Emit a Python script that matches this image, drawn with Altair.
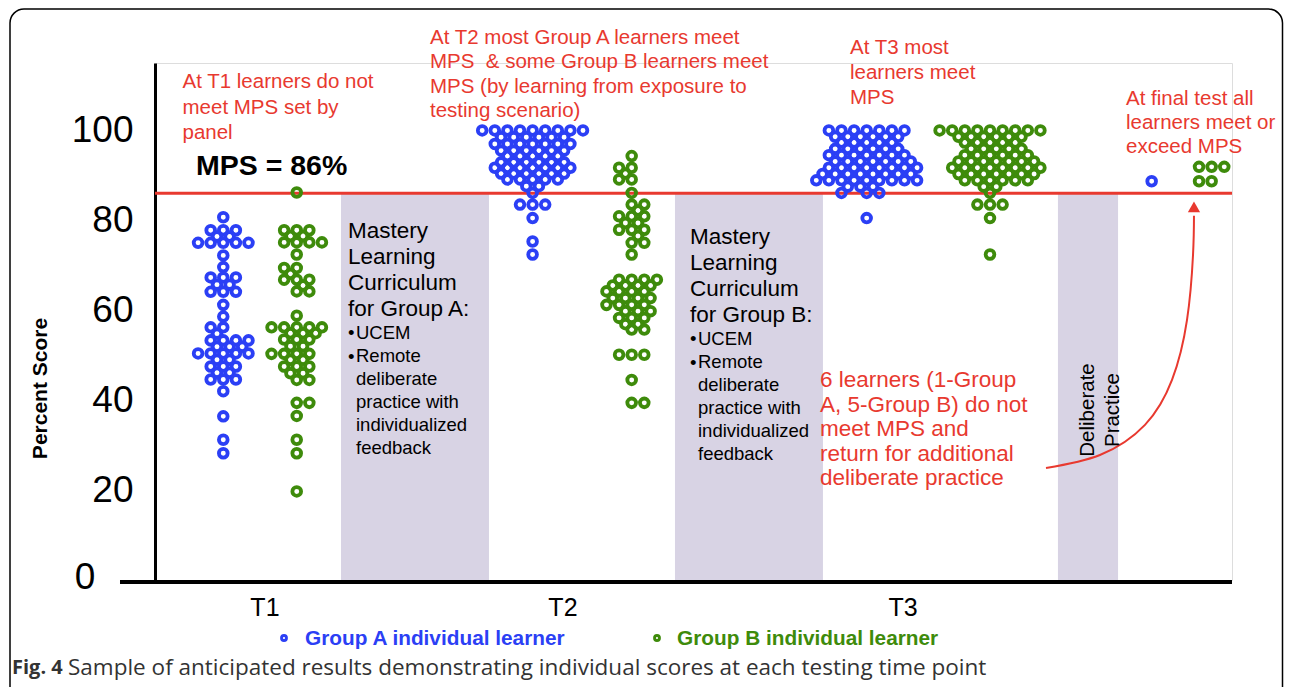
import altair as alt
import pandas as pd

# ---------------- data ----------------
BLUE = "#2b3ff5"
GREEN = "#3e8b0b"
RED = "#e8392f"
BAND = "#d8d3e4"

# dot clusters: group and centre on the time axis (0-10 units)
cluster_groups = ["A", "B", "A", "B", "A", "B", "A", "B"]
cluster_centres = [0.634, 1.316, 3.506, 4.426, 6.608, 7.753, 9.254, 9.811]

# each cluster: rows of (percent score, swarm column slots)
a_t1 = [(80.7, [0]), (77.8, [-2, 0, 2]), (76.4, [-1, 1]), (75.0, [-4, -2, 0, 2, 4]), (72.2, [0]),
        (69.6, [0]), (67.3, [-2, 0, 2]), (65.7, [-1, 1]), (64.1, [-2, 0, 2]), (61.2, [0]), (58.6, [0]),
        (56.2, [-2, 0]), (54.8, [-1]), (53.3, [-2, 0, 2, 4]), (51.9, [-1, 1, 3]),
        (50.4, [-4, -2, 0, 2, 4]), (49.0, [-1, 1]), (47.5, [-2, 0, 2]), (46.1, [-1, 1]),
        (44.6, [-2, 0, 2]), (42.0, [0]), (36.4, [0]), (31.2, [0]), (28.2, [0])]
b_t1 = [(86.2, [0]), (77.8, [-2, 0, 2]), (76.5, [-1, 1]), (75.1, [-2, 0, 2, 4]), (72.4, [0]),
        (69.4, [-2, 0]), (68.1, [-1]), (66.8, [-2, 0, 2]), (65.5, [1]), (64.2, [0, 2]), (58.8, [0]),
        (56.2, [-4, -2, 0, 2, 4]), (54.9, [-1, 1, 3]), (53.5, [-2, 0, 2]), (52.0, [-1, 1]),
        (50.3, [-4, -2, 0, 2]), (49.0, [-1, 1]), (47.5, [-2, 0, 2]), (46.0, [-1, 1]), (44.5, [0, 2]),
        (39.4, [0, 2]), (36.5, [0]), (31.2, [0]), (28.2, [0]), (19.7, [0])]
a_t2 = [(100.0, [-8, -6, -4, -2, 0, 2, 4, 6, 8]), (98.5, [-5, -3, -1, 1, 3, 5]),
        (97.0, [-6, -4, -2, 0, 2, 4, 6]), (95.5, [-5, -3, -1, 1, 3, 5]), (94.3, [-4, -2, 0, 2, 4]),
        (92.9, [-5, -3, -1, 1, 3, 5]), (91.7, [-6, -4, -2, 0, 2, 4, 6]), (90.4, [-5, -3, -1, 1, 3, 5]),
        (89.1, [-4, -2, 0, 2, 4]), (87.6, [-1, 1]), (86.1, [0]), (83.5, [-2, 0, 2]), (80.5, [0]),
        (75.3, [0]), (72.4, [0])]
b_t2 = [(94.3, [0]), (91.7, [-2, 0]), (90.4, [-1]), (89.1, [-2, 0]), (86.1, [0]), (83.5, [0, 2]),
        (82.2, [1]), (80.9, [-2, 0, 2]), (79.4, [-1, 1]), (77.9, [-2, 0, 2]), (76.5, [1]), (75.0, [0, 2]),
        (72.4, [0]), (66.8, [-2, 0, 2, 4]), (65.5, [-3, -1, 1, 3]), (64.2, [-4, -2, 0, 2]),
        (62.7, [-3, -1, 1, 3]), (61.2, [-4, -2, 0, 2]), (59.8, [-1, 1, 3]), (58.3, [-2, 0, 2]),
        (56.9, [-1, 1]), (55.7, [0, 2]), (50.1, [-2, 0, 2]), (44.5, [0]), (39.4, [0, 2])]
a_t3 = [(100.0, [-6, -4, -2, 0, 2, 4, 6]), (98.6, [-5, -3, -1, 1, 3, 5]), (97.3, [-4, -2, 0, 2, 4]),
        (95.9, [-5, -3, -1, 1, 3, 5]), (94.5, [-6, -4, -2, 0, 2, 4, 6]), (93.1, [-5, -3, -1, 1, 3, 5, 7]),
        (91.7, [-6, -4, -2, 0, 2, 4, 6, 8]), (90.3, [-7, -5, -3, -1, 1, 3, 5, 7]),
        (88.9, [-8, -6, -4, -2, 0, 2, 4, 6, 8]), (87.5, [-3, -1, 1]), (86.1, [-4, 0, 2]), (80.5, [0])]
b_t3 = [(100.0, [-8, -6, -4, -2, 0, 2, 4, 6, 8]), (98.6, [-5, -3, -1, 1, 3, 5]), (97.3, [-4, -2, 0, 2, 4]),
        (95.9, [-3, -1, 1, 3, 5]), (94.5, [-4, -2, 0, 2, 4, 6]), (93.1, [-5, -3, -1, 1, 3, 5, 7]),
        (91.7, [-6, -4, -2, 0, 2, 4, 6, 8]), (90.3, [-5, -3, -1, 1, 3, 5, 7]),
        (88.9, [-4, -2, 0, 2, 4, 6]), (87.5, [-1, 1]), (86.1, [0]), (83.5, [-2, 0, 2]), (80.5, [0]),
        (72.4, [0])]
a_final = [(88.7, [0])]
b_final = [(91.9, [-2, 0, 2]), (88.7, [-2, 0])]
clusters = [a_t1, b_t1, a_t2, b_t2, a_t3, b_t3, a_final, b_final]

MPS = 86
y_ticks = [20, 40, 60, 80, 100]
zero_label = "0"
time_labels = ["T1", "T2", "T3"]
time_label_pos = [1.021, 3.788, 6.945]
band_start = [1.727, 4.828, 8.384]
band_end = [3.101, 6.202, 8.942]

# curved arrow path (time-axis units, score)
arrow_pos = [8.273, 8.774, 9.192, 9.443, 9.582, 9.638, 9.647]
arrow_score = [24.9, 27.8, 34.5, 44.5, 57.8, 72.3, 81.0]
arrow_head = (9.647, 83.0)

txt_t1 = ["At T1 learners do not", "meet MPS set by", "panel"]
txt_mps = "MPS = 86%"
txt_t2 = ["At T2 most Group A learners meet", "MPS\u00a0 & some Group B learners meet",
          "MPS (by learning from exposure to", "testing scenario)"]
txt_t3 = ["At T3 most", "learners meet", "MPS"]
txt_final = ["At final test all", "learners meet or", "exceed MPS"]
txt_six = ["6 learners (1-Group", "A, 5-Group B) do not", "meet MPS and",
           "return for additional", "deliberate practice"]
txt_mastery_a = ["Mastery", "Learning", "Curriculum", "for Group A:"]
txt_mastery_b = ["Mastery", "Learning", "Curriculum", "for Group B:"]
txt_bullets = ["UCEM", "Remote", "deliberate", "practice with", "individualized", "feedback"]
txt_delib = ["Deliberate", "Practice"]
legend_labels = ["Group A individual learner", "Group B individual learner"]
caption_bold = "Fig. 4"
caption_rest = "Sample of anticipated results demonstrating individual scores at each testing time point"

# ---------------- build ----------------
HALF = 0.0585  # horizontal half-slot of the swarm
rows = []
for grp, centre, cl in zip(cluster_groups, cluster_centres, clusters):
    for score, cols in cl:
        for c in cols:
            rows.append({"group": grp, "pos": centre + c * HALF, "score": score})
dots_df = pd.DataFrame(rows)

FONT = "Liberation Sans"
xs = alt.Scale(domain=[0, 10], nice=False, zero=False)
ys = alt.Scale(domain=[0, 115], nice=False, zero=False)
yaxis = alt.Axis(values=y_ticks, title="Percent Score", titleFont=FONT, titleFontSize=21,
                 titleFontWeight="bold", titleColor="black", titleAngle=270, titleX=-115, titleY=325,
                 titleAlign="center", titleBaseline="middle", labelFont=FONT, labelFontSize=37,
                 labelColor="black", labelPadding=22, ticks=False, tickSize=0, grid=False,
                 domainColor="black", domainWidth=3)
X = lambda f: alt.X(f, type="quantitative", scale=xs, axis=None)
Y = lambda f: alt.Y(f, type="quantitative", scale=ys, axis=yaxis)

one = alt.Data(values=[{}])

border = alt.Chart(one).mark_rect(cornerRadius=14, fillOpacity=0, stroke="black", strokeWidth=1.5,
                                  clip=False).encode(
    x=alt.value(-145), x2=alt.value(1127.5), y=alt.value(-54), y2=alt.value(720))

bands = alt.Chart(pd.DataFrame({"pos": band_start, "pos2": band_end, "score": [0] * 3,
                                "score2": [MPS] * 3})).mark_rect(color=BAND).encode(
    x=X("pos"), x2="pos2", y=Y("score"), y2="score2")

mps_line = alt.Chart(pd.DataFrame({"pos": [0], "pos2": [10], "score": [MPS]})).mark_rule(
    color=RED, strokeWidth=3).encode(x=X("pos"), x2="pos2", y=Y("score"))

x_axis_line = alt.Chart(pd.DataFrame({"pos": [-0.325], "pos2": [10.0], "score": [-0.45]})).mark_rule(
    color="black", strokeWidth=4, clip=False).encode(x=X("pos"), x2="pos2", y=Y("score"))

dots = alt.Chart(dots_df).mark_point(shape="circle", filled=False, size=76, strokeWidth=3.8,
                                     opacity=1).encode(
    x=X("pos"), y=Y("score"),
    color=alt.Color("group:N", scale=alt.Scale(domain=["A", "B"], range=[BLUE, GREEN]), legend=None))

tlabels = alt.Chart(pd.DataFrame({"pos": time_label_pos, "label": time_labels})).mark_text(
    font=FONT, fontSize=25, color="black", baseline="middle", align="center").encode(
    x=X("pos"), y=alt.value(545), text="label:N")

arrow = alt.Chart(pd.DataFrame({"pos": arrow_pos, "score": arrow_score,
                                "order": range(len(arrow_pos))})).mark_line(
    color=RED, strokeWidth=2, interpolate="natural").encode(x=X("pos"), y=Y("score"), order="order:Q")
arrow_tip = alt.Chart(pd.DataFrame({"pos": [arrow_head[0]], "score": [arrow_head[1]]})).mark_point(
    shape="triangle-up", filled=True, size=150, color=RED, opacity=1).encode(x=X("pos"), y=Y("score"))


def text_block(lines, x, y, size, color="black", weight="normal", lh=None, align="left",
               baseline="alphabetic", angle=0, font=FONT):
    kw = dict(text="\n".join(lines) if isinstance(lines, list) else lines, lineBreak="\n",
              font=font, fontSize=size, color=color, fontWeight=weight, align=align,
              baseline=baseline, angle=angle, clip=False)
    if lh:
        kw["lineHeight"] = lh
    return alt.Chart(one).mark_text(**kw).encode(x=alt.value(x), y=alt.value(y))


texts = [
    text_block(zero_label, -70, 515, 37, "black", align="center", baseline="middle"),
    text_block(txt_t1, 27.5, 25, 20.5, RED, lh=25.5),
    text_block(txt_mps, 41, 112, 28.5, "black", "bold"),
    text_block(txt_t2, 275, -19.5, 20.5, RED, lh=24.5),
    text_block(txt_t3, 695, -9, 20.5, RED, lh=25),
    text_block(txt_final, 971, 42, 20.5, RED, lh=24),
    text_block(txt_six, 665, 324, 22.5, RED, lh=24.5),
    text_block(txt_mastery_a, 193, 175, 22.5, "black", lh=26),
    text_block(["•", "•"], 193, 276, 18.5, "black", lh=23.5),
    text_block(txt_bullets, 201, 276, 18.5, "black", lh=23),
    text_block(txt_mastery_b, 535, 181, 22.5, "black", lh=26),
    text_block(["•", "•"], 535, 282, 18.5, "black", lh=23.5),
    text_block(txt_bullets, 543, 282, 18.5, "black", lh=23),
    text_block(txt_delib, 933, 347, 20.5, "black", lh=25, align="center", baseline="middle", angle=270),
    text_block(legend_labels[0], 150, 576, 20.8, BLUE, "bold", baseline="middle"),
    text_block(legend_labels[1], 522, 576, 20.8, GREEN, "bold", baseline="middle"),
    text_block(caption_bold, -143, 605, 20, "#333333", "bold", baseline="middle", font="Open Sans"),
    text_block(caption_rest, -87, 605, 22.5, "#333333", baseline="middle", font="Open Sans"),
]

legend_dots = [
    alt.Chart(one).mark_point(shape="circle", filled=False, size=25, strokeWidth=2.8, color=c,
                              opacity=1, clip=False).encode(x=alt.value(px), y=alt.value(575))
    for c, px in [(BLUE, 129), (GREEN, 502)]
]

chart = alt.layer(border, bands, mps_line, x_axis_line, dots, tlabels, arrow, arrow_tip,
                  *texts, *legend_dots).properties(
    width=1077, height=517,
    autosize=alt.AutoSizeParams(type="none"),
    padding={"left": 147, "top": 55, "right": 52, "bottom": 107},
).configure_view(stroke=None).configure(background="white")

chart.save("out.html", embed_options={"renderer": "svg", "actions": False})
